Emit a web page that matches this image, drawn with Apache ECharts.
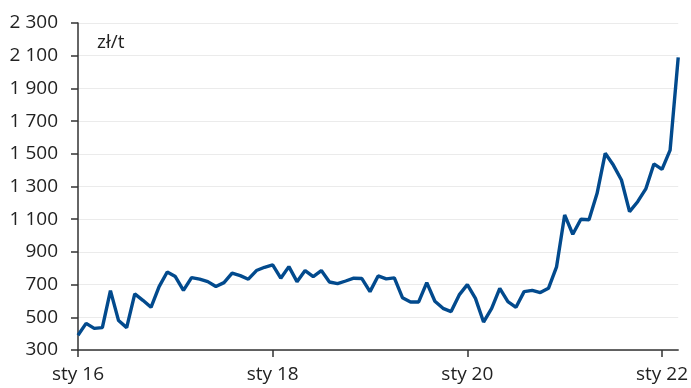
<!DOCTYPE html>
<html>
<head>
<meta charset="utf-8">
<script src="https://cdn.jsdelivr.net/npm/echarts@6/dist/echarts.min.js"></script>
<style>
html,body{margin:0;padding:0;background:#fff;}
#chart{width:691px;height:388px;}
</style>
</head>
<body>
<div id="chart"></div>
<script>
const monthNames = ['sty','lut','mar','kwi','maj','cze','lip','sie','wrz','paź','lis','gru'];
const years = ['16','17','18','19','20','21','22'];
const categories = [];
for (const y of years) for (const m of monthNames) categories.push(m + ' ' + y);
categories.length = 75; // Jan 2016 – Mar 2022

const prices = [
  390, 463, 432, 437, 663, 480, 437, 643, 604, 561, 688, 777,
  749, 665, 743, 733, 718, 688, 712, 770, 755, 733, 786, 806,
  820, 739, 810, 718, 786, 749, 786, 716, 706, 722, 739, 737,
  657, 753, 735, 741, 620, 594, 594, 712, 598, 555, 535, 637,
  700, 616, 471, 555, 677, 596, 561, 657, 665, 651, 677, 809,
  1126, 1008, 1100, 1097, 1258, 1503, 1431, 1340, 1146, 1207, 1285, 1438,
  1405, 1523, 2090
];

const yTicks = { min: 300, max: 2300, interval: 200 };
const unitLabel = 'zł/t';

const chart = echarts.init(document.getElementById('chart'));
const fontFamily = '"Open Sans", "Noto Sans", sans-serif';
chart.setOption({
  animation: false,
  grid: { left: 78, right: 12, top: 23, bottom: 38, containLabel: false },
  graphic: [{
    type: 'text', left: 97, top: 33,
    style: { text: unitLabel, fontSize: 19, fill: '#222', fontFamily: fontFamily }
  }],
  xAxis: {
    type: 'category',
    data: categories,
    boundaryGap: false,
    axisLine: { lineStyle: { color: '#333', width: 1.5 } },
    axisTick: { show: true, length: 7, interval: (i) => i % 24 === 0, lineStyle: { color: '#333', width: 1.5 } },
    axisLabel: { interval: (i) => i % 24 === 0, fontSize: 19, color: '#222', fontFamily: fontFamily, margin: 15 },
    splitLine: { show: false }
  },
  yAxis: {
    type: 'value',
    min: yTicks.min, max: yTicks.max, interval: yTicks.interval,
    axisLine: { show: true, lineStyle: { color: '#333', width: 1.5 } },
    axisTick: { show: true, length: 7, lineStyle: { color: '#333', width: 1.5 } },
    axisLabel: {
      fontSize: 19, color: '#222', fontFamily: fontFamily, margin: 20,
      formatter: (v) => String(v).replace(/\B(?=(\d{3})+(?!\d))/g, ' ')
    },
    splitLine: { show: true, lineStyle: { color: '#ebebeb', width: 1 } }
  },
  series: [{
    type: 'line',
    data: prices,
    showSymbol: false,
    lineStyle: { color: '#024a8d', width: 3.4 },
    itemStyle: { color: '#024a8d' }
  }]
});
</script>
</body>
</html>
